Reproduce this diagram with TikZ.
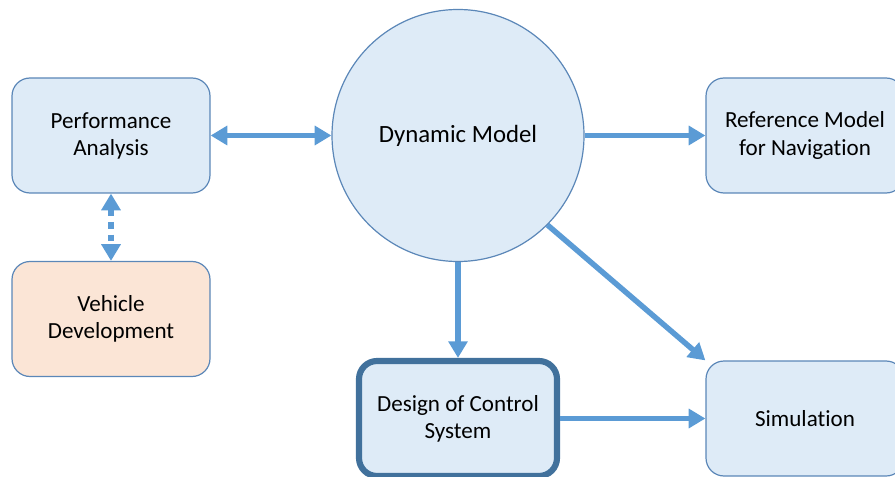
\documentclass[tikz,border=0pt]{standalone}
\usepackage{fontspec}
\setmainfont{Carlito}[Ligatures = NoCommon]
\usetikzlibrary{arrows.meta}
\definecolor{boxfill}{HTML}{DEEBF7}
\definecolor{boxline}{HTML}{5B87B8}
\definecolor{darkline}{HTML}{41719C}
\definecolor{peach}{HTML}{FBE5D6}
\definecolor{arrowblue}{HTML}{5B9BD5}
\tikzset{
    block/.style = {draw = boxline, fill = boxfill, line width = 0.9pt, rounded corners = 13.5pt,
        minimum width = 148.5pt, minimum height = 86.25pt, align = center,
        font = \fontsize{17.3}{20.3}\selectfont},
    link/.style = {draw = arrowblue, line width = 4.1pt, -{Triangle[length = 12.5pt, width = 14pt]}},
    twolink/.style = {link, {Triangle[length = 12.5pt, width = 14pt]}-{Triangle[length = 12.5pt, width = 14pt]}},
}

\begin{document}
\begin{tikzpicture}[x = 0.75pt, y = -0.75pt]
\useasboundingbox (0,0) rectangle (895,477);
\node[block] (perf) at (111,135.5) {Performance\\Analysis};
\node[block, fill = peach] (veh) at (111,319) {Vehicle\\Development};
\node[circle, draw = boxline, fill = boxfill, line width = 0.9pt, minimum size = 189pt, inner sep = 0pt,
    font = \fontsize{18.6}{22}\selectfont] (dyn) at (458,135.5) {Dynamic Model};
\node[block] (ref) at (805,135.5) {Reference Model\\for Navigation};
\node[block, draw = darkline, line width = 4.6pt] (ctrl) at (458,418.5) {Design of Control\\System};
\node[block] (sim) at (805,418.5) {Simulation};
\draw[twolink] (perf) -- (dyn);
\draw[twolink, dash pattern = on 5pt off 4.5pt] (perf) -- (veh);
\draw[link] (dyn) -- (ref);
\draw[link] (dyn) -- (ctrl);
\draw[link] (dyn.-45) -- (sim.north west);
\draw[link] (ctrl) -- (sim);
\end{tikzpicture}
\end{document}
